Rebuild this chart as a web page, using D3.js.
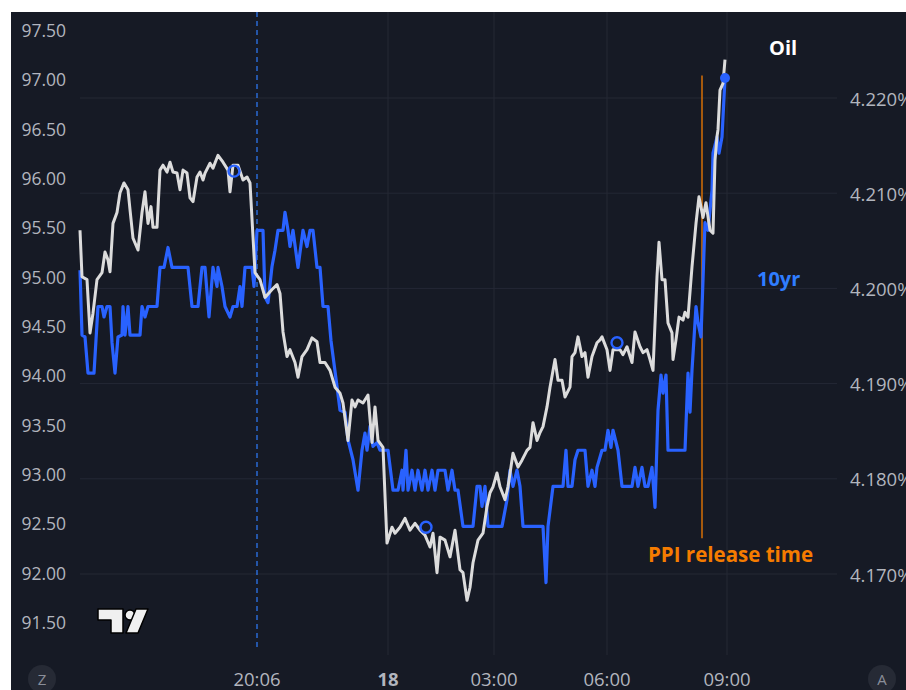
<!DOCTYPE html>
<html lang="en">
<head>
<meta charset="UTF-8">
<title>Oil vs 10yr</title>
<script src="https://d3js.org/d3.v7.min.js"></script>
<style>
  body { margin: 0; background: #ffffff; }
  svg { display: block; font-family: "Open Sans", Roboto, sans-serif; }
  .tick-text { fill: #b2b5be; font-size: 17.5px; }
</style>
</head>
<body>
<svg width="906" height="690"></svg>
<script>
// bar index along the session (gaps skipped, like the source chart)
const oilBars = [0,2,7,10,13,17,22,25,28,30,33,37,40,44,48,50,53,58,62,65,68,71,73,77,
  80,83,87,90,93,97,100,103,107,110,113,117,120,123,125,130,133,138,143,148,150,153,158,163,167,170,
  175,180,185,192,197,200,203,207,210,215,218,222,227,232,237,240,245,250,255,260,263,268,272,275,278,
  283,288,292,295,298,303,307,312,315,320,325,330,335,340,345,350,353,357,360,365,370,375,380,383,387,
  390,393,398,403,407,410,413,417,420,425,428,433,438,442,447,450,453,457,460,463,467,470,475,478,482,
  485,490,492,495,498,502,505,508,512,517,520,522,527,530,533,540,543,547,552,555,560,563,567,570,573,
  577,579,582,585,588,592,593,596,599,603,605,608,612,616,619,623,626,630,633,635,637,638,640,643,645];
const oilValues = [95.47,95.00,94.97,94.43,94.63,94.97,95.04,95.25,95.17,95.05,95.54,95.65,95.85,95.95,95.88,95.68,95.39,95.27,95.65,95.86,95.54,95.71,95.50,95.50,
  96.08,96.13,96.06,96.16,96.06,96.05,95.88,96.08,96.05,95.80,95.76,96.01,96.06,95.98,96.05,96.15,96.10,96.23,96.16,96.08,95.86,96.13,96.13,95.98,96.01,95.95,
  95.04,94.97,94.79,94.87,94.92,94.83,94.44,94.19,94.26,94.13,93.98,94.19,94.26,94.38,94.34,94.13,94.13,94.05,93.88,93.82,93.72,93.34,93.75,93.68,93.75,
  93.72,93.80,93.32,93.68,93.34,93.27,92.30,92.46,92.40,92.46,92.55,92.43,92.50,92.43,92.38,92.26,92.40,92.00,92.36,92.33,92.16,92.43,92.03,92.00,91.72,
  91.85,92.10,92.33,92.40,92.67,92.81,92.87,93.01,92.87,92.74,92.87,93.21,93.07,93.14,93.24,93.27,93.52,93.34,93.42,93.48,93.68,93.88,94.16,93.95,93.95,
  93.78,93.88,94.19,94.23,94.39,94.19,94.23,93.98,94.19,94.33,94.36,94.39,94.26,94.05,94.26,94.26,94.21,94.29,94.13,94.44,94.29,94.23,94.26,94.16,94.05,
  95.00,95.35,94.97,94.97,94.53,94.43,94.16,94.36,94.59,94.56,94.64,94.59,95.10,95.54,95.81,95.60,95.75,95.47,95.44,96.18,96.42,96.49,96.89,96.96,97.20];

const rateBars = [0,2,5,8,14,18,22,24,27,30,32,35,38,42,43,45,48,50,60,62,65,68,77,80,84,88,92,108,112,118,122,125,129,133,137,138,142,145,150,153,157,160,162,165,172,174,
  177,183,185,188,192,195,198,203,205,208,210,213,218,223,227,230,233,237,240,243,248,251,257,260,265,268,273,278,282,285,287,290,293,297,300,308,
  313,318,322,323,326,328,332,335,338,342,345,348,352,355,358,365,368,372,375,378,383,393,397,400,402,405,408,422,427,430,433,437,440,443,463,466,468,
  473,483,486,488,492,495,498,505,508,512,515,517,522,525,528,531,533,538,542,552,555,558,562,565,568,572,575,578,581,583,586,588,605,608,610,612,
  616,618,621,625,628,632,633,637,639,642,645];
const rateValues = [4.2019,4.1951,4.1949,4.1911,4.1911,4.1981,4.1981,4.1970,4.1981,4.1981,4.1943,4.1911,4.1949,4.1951,4.1981,4.1951,4.1981,4.1951,4.1951,4.1981,4.1970,4.1981,4.1981,4.2022,4.2022,4.2043,4.2022,4.2022,4.1981,4.1981,4.2022,4.2022,4.1970,4.2022,4.2002,4.2022,4.2002,4.1981,4.1970,4.1981,4.1981,4.2002,4.1981,4.2022,4.2022,4.2002,
  4.2061,4.2061,4.1991,4.1985,4.2023,4.2040,4.2061,4.2061,4.2080,4.2061,4.2044,4.2061,4.2022,4.2061,4.2044,4.2061,4.2061,4.2022,4.2022,4.1981,4.1981,4.1945,4.1897,4.1872,4.1870,4.1841,4.1820,4.1788,4.1830,4.1848,4.1830,4.1855,4.1834,4.1838,4.1830,4.1830,
  4.1788,4.1788,4.1809,4.1788,4.1830,4.1788,4.1809,4.1788,4.1809,4.1788,4.1809,4.1788,4.1809,4.1788,4.1809,4.1809,4.1788,4.1809,4.1788,4.1788,4.1750,4.1750,4.1792,4.1792,4.1771,4.1792,4.1750,4.1750,4.1778,4.1809,4.1792,4.1809,4.1792,4.1750,4.1750,4.1691,4.1750,
  4.1792,4.1792,4.1830,4.1792,4.1792,4.1820,4.1830,4.1830,4.1792,4.1809,4.1792,4.1812,4.1830,4.1830,4.1851,4.1833,4.1851,4.1830,4.1792,4.1792,4.1812,4.1792,4.1812,4.1792,4.1792,4.1812,4.1770,4.1872,4.1909,4.1890,4.1909,4.1830,4.1830,4.1911,4.1870,4.1914,
  4.1981,4.1964,4.1949,4.2069,4.2061,4.2103,4.2142,4.2159,4.2142,4.2159,4.2221];

const oilTicks = [91.5, 92, 92.5, 93, 93.5, 94, 94.5, 95, 95.5, 96, 96.5, 97, 97.5];
const rateTicks = [4.17, 4.18, 4.19, 4.20, 4.21, 4.22];
const timeLabels = ["20:06", "18", "03:00", "06:00", "09:00"];
const timeBars = [177, 308, 414, 527, 647];
const markerBars = [154, 346, 537];
const markerValues = [96.07, 92.46, 94.33];
const ppiBar = 622;
const ppiRange = [92.35, 97.04];

const svg = d3.select("svg");
const W = 906, H = 690;
const panel = { left: 11, top: 12 };
const plot = { left: 80, right: 837, top: 12, bottom: 655 };

const x = d3.scaleLinear().domain([0, 757]).range([plot.left, plot.right]);
const yOil = d3.scaleLinear().domain([91.5, 97.5]).range([622, 30]);
const yRate = d3.scaleLinear().domain([4.17, 4.22]).range([574, 98]);

const white = "#dcdcdc", blue = "#2962ff", orange = "#f57c00";

svg.append("rect").attr("width", W).attr("height", H).attr("fill", "#ffffff");
svg.append("rect").attr("x", panel.left).attr("y", panel.top)
  .attr("width", W - panel.left).attr("height", H - panel.top).attr("fill", "#161a25");

// grid
svg.append("g").selectAll("line").data(rateTicks).join("line")
  .attr("x1", plot.left).attr("x2", plot.right)
  .attr("y1", d => yRate(d)).attr("y2", d => yRate(d))
  .attr("stroke", "#242835").attr("stroke-width", 1);
svg.append("g").selectAll("line").data(timeBars.slice(1)).join("line")
  .attr("x1", d => x(d)).attr("x2", d => x(d))
  .attr("y1", plot.top).attr("y2", plot.bottom)
  .attr("stroke", "#242835").attr("stroke-width", 1);

// crosshair at 20:06
svg.append("line")
  .attr("x1", x(timeBars[0])).attr("x2", x(timeBars[0]))
  .attr("y1", plot.top).attr("y2", plot.bottom - 5)
  .attr("stroke", "#2f7dff").attr("stroke-width", 1.2)
  .attr("stroke-dasharray", "5,4");

// left axis (oil)
svg.append("g").selectAll("text").data(oilTicks).join("text")
  .attr("class", "tick-text")
  .attr("x", 66).attr("y", d => yOil(d))
  .attr("text-anchor", "end").attr("dominant-baseline", "central")
  .text(d => d3.format(".2f")(d));

// right axis (10yr)
svg.append("g").selectAll("text").data(rateTicks).join("text")
  .attr("class", "tick-text")
  .attr("x", 850).attr("y", d => yRate(d))
  .attr("dominant-baseline", "central")
  .style("font-size", "18.5px")
  .text(d => d3.format(".3f")(d) + "%");

// time axis
svg.append("g").selectAll("text").data(timeLabels).join("text")
  .attr("class", "tick-text")
  .attr("x", (d, i) => x(timeBars[i])).attr("y", 678)
  .attr("text-anchor", "middle").attr("dominant-baseline", "central")
  .style("font-size", "18.5px")
  .attr("font-weight", d => d === "18" ? "bold" : null)
  .text(d => d);

// PPI line
svg.append("line")
  .attr("x1", x(ppiBar)).attr("x2", x(ppiBar))
  .attr("y1", yOil(ppiRange[1])).attr("y2", yOil(ppiRange[0]))
  .attr("stroke", orange).attr("stroke-width", 1.3);

// series
const rateLine = d3.line().x(d => x(d[0])).y(d => yRate(d[1]));
const oilLine = d3.line().x(d => x(d[0])).y(d => yOil(d[1]));

svg.append("path").datum(d3.zip(rateBars, rateValues))
  .attr("d", rateLine).attr("fill", "none")
  .attr("stroke", blue).attr("stroke-width", 3.2).attr("stroke-linejoin", "round");
svg.append("path").datum(d3.zip(oilBars, oilValues))
  .attr("d", oilLine).attr("fill", "none")
  .attr("stroke", white).attr("stroke-width", 3).attr("stroke-linejoin", "round");

// markers
svg.append("g").selectAll("circle").data(markerBars).join("circle")
  .attr("cx", d => x(d)).attr("cy", (d, i) => yOil(markerValues[i]))
  .attr("r", 5.5).attr("fill", "none")
  .attr("stroke", blue).attr("stroke-width", 2.4);
svg.append("circle")
  .attr("cx", x(rateBars[rateBars.length - 1]))
  .attr("cy", yRate(rateValues[rateValues.length - 1]))
  .attr("r", 5).attr("fill", blue);

// labels
svg.append("text").attr("x", 769).attr("y", 47)
  .attr("dominant-baseline", "central")
  .attr("fill", "#ffffff").attr("font-size", 20).attr("font-weight", "bold")
  .text("Oil");
svg.append("text").attr("x", 757).attr("y", 278)
  .attr("dominant-baseline", "central")
  .attr("fill", "#2f7dff").attr("font-size", 20).attr("font-weight", "bold")
  .text("10yr");
svg.append("text").attr("x", 648).attr("y", 554)
  .attr("dominant-baseline", "central")
  .attr("fill", orange).attr("font-size", 20.5).attr("font-weight", "bold")
  .text("PPI release time");

// TradingView mark
const logo = svg.append("g").attr("fill", "#f0f0f0").attr("stroke", "#000").attr("stroke-width", 1.5)
  .attr("stroke-linejoin", "round");
logo.append("path").attr("d", "M98,609 H123 V633 H111 V620 H98 Z");
logo.append("circle").attr("cx", 130).attr("cy", 615).attr("r", 5);
logo.append("path").attr("d", "M136,609 H148 L138,633 H126 Z");

// corner buttons
[["Z", 42], ["A", 882]].forEach(([t, cx]) => {
  svg.append("circle").attr("cx", cx).attr("cy", 679).attr("r", 14).attr("fill", "#262a35");
  svg.append("text").attr("x", cx).attr("y", 679)
    .attr("text-anchor", "middle").attr("dominant-baseline", "central")
    .attr("fill", "#8a8e99").attr("font-size", 15).text(t);
});
</script>
</body>
</html>
